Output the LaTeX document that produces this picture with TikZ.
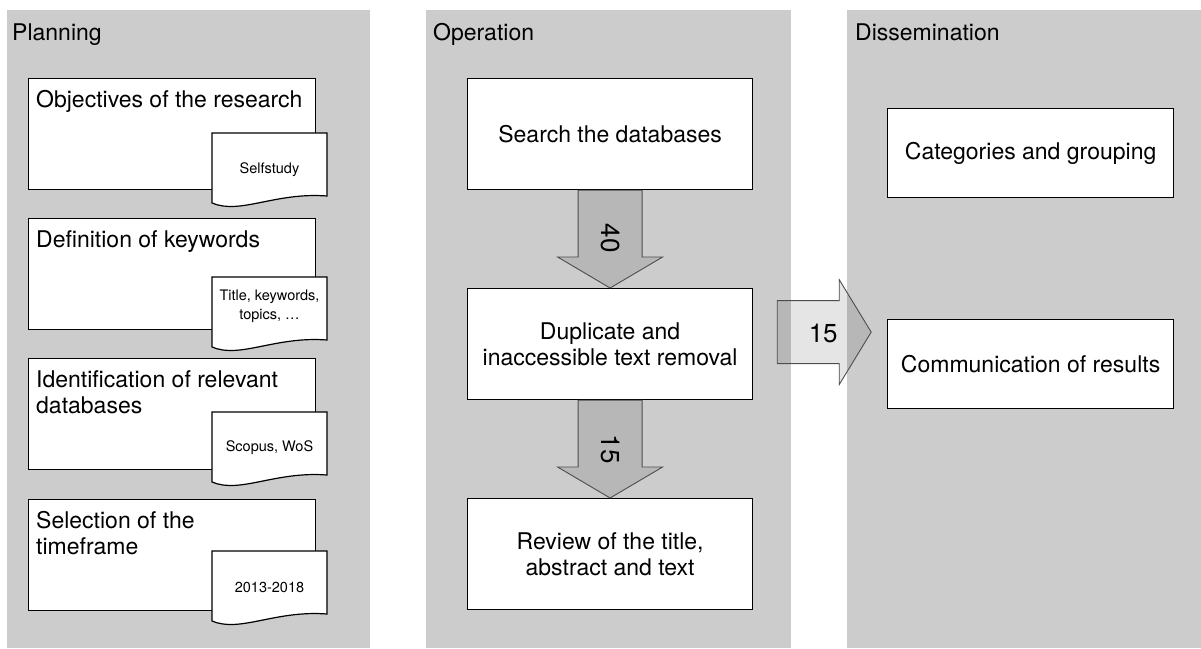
\documentclass[tikz,border=0pt]{standalone}
\usepackage{fontspec}
\setmainfont{TeX Gyre Heros}
\usetikzlibrary{calc}
\definecolor{panelgray}{HTML}{CCCCCC}
\definecolor{arrline}{HTML}{4D4D4D}
\begin{document}
\begin{tikzpicture}[x=1pt,y=-1pt,
  panel/.style={fill=panelgray, draw=none},
  ptitle/.style={anchor=base west, inner sep=0, font=\fontsize{23}{26}\selectfont},
  box/.style={draw=black, fill=white, line width=1.2pt, anchor=north west, inner sep=0, minimum width=287pt, minimum height=111pt},
  cbox/.style={box, align=center, font=\fontsize{23}{26}\selectfont},
  ltext/.style={anchor=north west, inner sep=0, align=left, font=\fontsize{23}{26.5}\selectfont},
  doctext/.style={inner sep=0, align=center, font=\fontsize{14.5}{19}\selectfont},
  docline/.style={draw=black, fill=white, line width=1.2pt},
  flow/.style={draw=arrline, line width=0.9pt, fill=black, fill opacity=0.1, draw opacity=1},
  flowlabel/.style={inner sep=0, font=\fontsize{26}{30}\selectfont},
  docpic/.pic={\path[docline] (0,0) -- (115,0) -- (115,63) .. controls (63,59) and (28,82) .. (0,70) -- cycle;}
]
\useasboundingbox (0,0) rectangle (1201,648);
% panels
\fill[panel] (7,10) rectangle (370,648);
\fill[panel] (426,10) rectangle (791,648);
\fill[panel] (847,10) rectangle (1201,648);
\node[ptitle] (tplan) at (12,40) {Planning};
\node[ptitle] (toper) at (433,40) {Operation};
\node[ptitle] (tdiss) at (855,40) {Dissemination};
% planning
\node[box] (p1) at (28,78) {};
\node[ltext] (p1t) at ([shift={(8,9)}]p1.north west) {\rule{0pt}{20pt}Objectives of the research};
\node[box] (p2) at (28,218) {};
\node[ltext] (p2t) at ([shift={(8,9)}]p2.north west) {\rule{0pt}{20pt}Definition of keywords};
\node[box] (p3) at (28,358) {};
\node[ltext] (p3t) at ([shift={(8,9)}]p3.north west) {\rule{0pt}{20pt}Identification of relevant\\databases};
\node[box] (p4) at (28,499) {};
\node[ltext] (p4t) at ([shift={(8,9)}]p4.north west) {\rule{0pt}{20pt}Selection of the\\timeframe};
\pic at (212,133) {docpic};
\node[doctext] (d1) at (269.5,170) {Selfstudy};
\pic at (212,277) {docpic};
\node[doctext] (d2) at (269.5,306) {Title, keywords,\\topics, …};
\pic at (212,412) {docpic};
\node[doctext] (d3) at (269.5,448) {Scopus, WoS};
\pic at (212,551) {docpic};
\node[doctext] (d4) at (269.5,587) {2013-2018};
% operation
\node[cbox, minimum width=285pt] (o1) at (467,78) {Search the databases};
\node[cbox, minimum width=285pt] (o2) at (467,288) {Duplicate and\\inaccessible text removal};
\node[cbox, minimum width=285pt] (o3) at (467,498) {Review of the title,\\abstract and text};
% dissemination
\node[cbox, minimum width=286pt, minimum height=89pt] (s1) at (887,108) {Categories and grouping};
\node[cbox, minimum width=286pt, minimum height=89pt] (s2) at (887,319) {Communication of results};
% arrows
\draw[flow] ($(o1.south)+(-32,0)$) -- ($(o2.north)+(-32,-31)$) -- ($(o2.north)+(-52.5,-31)$) -- (o2.north) -- ($(o2.north)+(52.5,-31)$) -- ($(o2.north)+(32,-31)$) -- ($(o1.south)+(32,0)$) -- cycle;
\node[flowlabel, rotate=-90] (l40) at ($(o2.north)+(0,-50)$) {40};
\draw[flow] ($(o2.south)+(-32,0)$) -- ($(o3.north)+(-32,-31)$) -- ($(o3.north)+(-52.5,-31)$) -- (o3.north) -- ($(o3.north)+(52.5,-31)$) -- ($(o3.north)+(32,-31)$) -- ($(o2.south)+(32,0)$) -- cycle;
\node[flowlabel, rotate=-90] (l15a) at ($(o3.north)+(0,-49)$) {15};
\coordinate (r0) at ($(o2.east)+(24,-12)$);
\draw[flow] ($(r0)+(0,-31.5)$) -- ($(r0)+(62,-31.5)$) -- ($(r0)+(62,-52.5)$) -- ($(r0)+(94,0)$) -- ($(r0)+(62,52.5)$) -- ($(r0)+(62,31.5)$) -- ($(r0)+(0,31.5)$) -- cycle;
\node[flowlabel] (l15b) at ($(r0)+(46,1.5)$) {15};
\end{tikzpicture}
\end{document}
